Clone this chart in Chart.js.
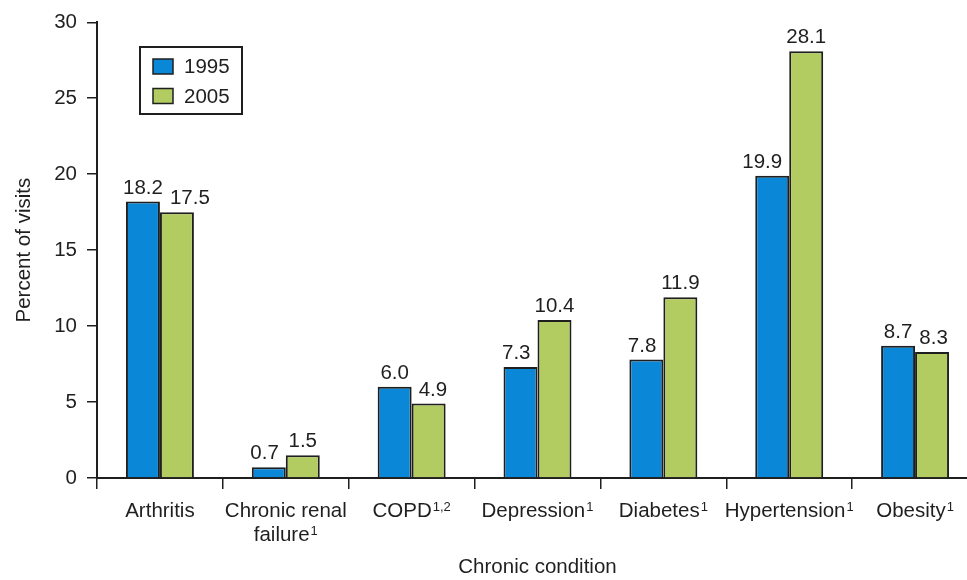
<!DOCTYPE html>
<html>
<head>
<meta charset="utf-8">
<script src="https://cdn.jsdelivr.net/npm/chart.js@4.4.1/dist/chart.umd.min.js"></script>
<style>
  html, body { margin: 0; padding: 0; background: #fff; overflow: hidden; }
  canvas { display: block; }
</style>
</head>
<body>
<canvas id="chart" width="980" height="580"></canvas>
<script>
// Chronic conditions recorded at visits, percent of visits
const categories = [
  ['Arthritis'],
  ['Chronic renal', 'failure'],
  ['COPD'],
  ['Depression'],
  ['Diabetes'],
  ['Hypertension'],
  ['Obesity']
];
const footnotes = ['', '1', '1,2', '1', '1', '1', '1'];
const seriesLabels = ['1995', '2005'];
const values1995 = [18.2, 0.7, 6.0, 7.3, 7.8, 19.9, 8.7];
const values2005 = [17.5, 1.5, 4.9, 10.4, 11.9, 28.1, 8.3];
const yTicks = [0, 5, 10, 15, 20, 25, 30];

const FONT = '"Liberation Sans", Arial, Helvetica, sans-serif';
const SIZE = 20.5;
const INK = '#1f1f1f';
const BLUE = '#0b87d8';
const GREEN = '#b3cc62';

// Value printed above each bar. A label that would run into the
// neighbouring (taller) bar or into the other label is moved sideways.
const valueLabels = {
  id: 'valueLabels',
  afterDatasetsDraw(chart) {
    const ctx = chart.ctx;
    const gap = 7;
    ctx.save();
    ctx.font = SIZE + 'px ' + FONT;
    ctx.fillStyle = INK;
    ctx.textAlign = 'center';
    ctx.textBaseline = 'alphabetic';
    const ds0 = chart.data.datasets[0], ds1 = chart.data.datasets[1];
    const m0 = chart.getDatasetMeta(0).data, m1 = chart.getDatasetMeta(1).data;
    m0.forEach((b0, j) => {
      const b1 = m1[j];
      const t0 = ds0.data[j].toFixed(1), t1 = ds1.data[j].toFixed(1);
      const w0 = ctx.measureText(t0).width, w1 = ctx.measureText(t1).width;
      const y0 = b0.y - 8, y1 = b1.y - 8;
      let x0 = b0.x, x1 = b1.x;
      // left label beside a taller right-hand bar
      if (b1.y < y0) {
        const maxRight = b1.x - b1.width / 2 - gap;
        if (x0 + w0 / 2 > maxRight) x0 = maxRight - w0 / 2;
      }
      // right label beside a taller left-hand bar
      if (b0.y < y1) {
        const minLeft = b0.x + b0.width / 2 + gap;
        if (x1 - w1 / 2 < minLeft) x1 = minLeft + w1 / 2;
      }
      // the two labels side by side at about the same height
      if (Math.abs(y0 - y1) < 16) {
        const minLeft = x0 + w0 / 2 + gap;
        if (x1 - w1 / 2 < minLeft) x1 = minLeft + w1 / 2;
      }
      ctx.fillText(t0, x0, y0);
      ctx.fillText(t1, x1, y1);
    });
    ctx.restore();
  }
};

// Category names with raised footnote markers
const categoryLabels = {
  id: 'categoryLabels',
  afterDraw(chart) {
    const ctx = chart.ctx;
    const xs = chart.scales.x;
    const lineGap = 24;
    const firstBaseline = xs.top + 39;
    ctx.save();
    ctx.fillStyle = INK;
    ctx.textBaseline = 'alphabetic';
    ctx.textAlign = 'left';
    categories.forEach((lines, i) => {
      const cx = xs.getPixelForTick(i);
      lines.forEach((line, k) => {
        const base = firstBaseline + k * lineGap;
        const sup = k === lines.length - 1 ? footnotes[i] : '';
        ctx.font = SIZE + 'px ' + FONT;
        const wMain = ctx.measureText(line).width;
        ctx.font = '13px ' + FONT;
        const wSup = sup ? ctx.measureText(sup).width + 1 : 0;
        const x0 = cx - (wMain + wSup) / 2;
        ctx.font = SIZE + 'px ' + FONT;
        ctx.fillText(line, x0, base);
        if (sup) {
          ctx.font = '13px ' + FONT;
          ctx.fillText(sup, x0 + wMain + 1, base - 6.5);
        }
      });
    });
    ctx.restore();
  }
};

// Framed legend inside the plot area
const boxLegend = {
  id: 'boxLegend',
  afterDraw(chart) {
    const ctx = chart.ctx;
    const x = 140, y = 47, w = 102, h = 67;
    ctx.save();
    ctx.lineWidth = 2;
    ctx.strokeStyle = INK;
    ctx.fillStyle = '#fff';
    ctx.fillRect(x, y, w, h);
    ctx.strokeRect(x, y, w, h);
    ctx.font = SIZE + 'px ' + FONT;
    ctx.textBaseline = 'middle';
    ctx.textAlign = 'left';
    chart.data.datasets.forEach((ds, i) => {
      const cy = 66.5 + i * 29.5;
      ctx.fillStyle = ds.backgroundColor;
      ctx.fillRect(153, cy - 7.5, 20, 15);
      ctx.lineWidth = 1.5;
      ctx.strokeRect(153, cy - 7.5, 20, 15);
      ctx.fillStyle = INK;
      ctx.fillText(ds.label, 184, cy + 1);
    });
    ctx.restore();
  }
};

new Chart(document.getElementById('chart'), {
  type: 'bar',
  data: {
    labels: categories.map(c => c.join(' ')),
    datasets: [
      { label: seriesLabels[0], data: values1995, backgroundColor: BLUE,
        borderColor: INK, borderWidth: 2 },
      { label: seriesLabels[1], data: values2005, backgroundColor: GREEN,
        borderColor: INK, borderWidth: 2 }
    ]
  },
  options: {
    responsive: false,
    animation: false,
    layout: { padding: { top: 20, right: 2, left: 0, bottom: 0 } },
    datasets: { bar: { categoryPercentage: 0.54, barPercentage: 1.0 } },
    plugins: { legend: { display: false }, tooltip: { enabled: false } },
    scales: {
      x: {
        afterFit(scale) { scale.height = 102; },
        grid: { offset: true, drawOnChartArea: false, drawTicks: true,
                tickLength: 11, color: INK, lineWidth: 1.5 },
        border: { display: true, color: INK, width: 2 },
        ticks: { color: 'rgba(0,0,0,0)', padding: 10, maxRotation: 0, autoSkip: false,
                 font: { family: FONT, size: 12 } },
        title: { display: true, text: 'Chronic condition', color: INK,
                 padding: { top: 0, bottom: 0 },
                 font: { family: FONT, size: SIZE } }
      },
      y: {
        min: 0, max: 30,
        afterFit(scale) { scale.width = 97; },
        afterBuildTicks(scale) { scale.ticks = yTicks.map(v => ({ value: v })); },
        grid: { drawOnChartArea: false, drawTicks: true, tickLength: 10,
                color: INK, lineWidth: 1.5 },
        border: { display: true, color: INK, width: 2 },
        ticks: { color: INK, padding: 10, font: { family: FONT, size: SIZE } },
        title: { display: true, text: 'Percent of visits', color: INK,
                 padding: { top: 12, bottom: 0 },
                 font: { family: FONT, size: SIZE } }
      }
    }
  },
  plugins: [valueLabels, categoryLabels, boxLegend]
});
</script>
</body>
</html>
